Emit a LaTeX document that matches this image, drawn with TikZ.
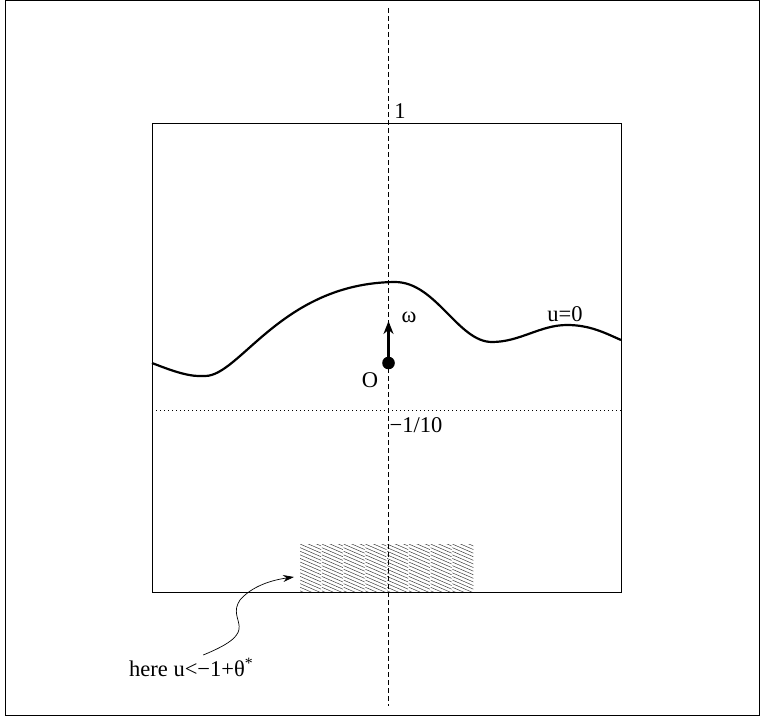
\documentclass[tikz,border=0pt]{standalone}
\usepackage{fontspec}
\setmainfont{Liberation Serif}
\usetikzlibrary{arrows.meta}

\begin{document}
\begin{tikzpicture}[x=1pt,y=-1pt,
  lab/.style={inner sep=0pt,font=\fontsize{22.5}{26}\selectfont},
  hatchline/.style={black!75,line width=0.5pt}]
\useasboundingbox (0,0) rectangle (760,717);
\draw[line width=0.8pt] (5.5,0.5) rectangle (759.5,715);
% Box
\draw[line width=0.9pt] (152,123) rectangle (621,592);
% Hatched strip at the bottom
\foreach \c in {0,...,7} {
  \begin{scope}
    \clip (300+21.75*\c,544) rectangle (300+21.75*\c+21,591.5);
    \foreach \k in {-6,...,22}
      \draw[hatchline] (300+21.75*\c,544+3.6*\k) -- ++(30,13);
  \end{scope}
}
% Axes
\draw[dash pattern=on 5pt off 3pt,line width=0.7pt] (388.5,8) -- (388.5,706);
\draw[dash pattern=on 1pt off 3pt,line width=0.8pt] (152,410) -- (621,410);
% Level curve
\draw[line width=2.2pt] (152,363) .. controls (175,372) and (190,377) .. (205,376)
  .. controls (240,376) and (282,283) .. (395,282)
  .. controls (436,282) and (458,342) .. (492,342)
  .. controls (520,342) and (540,325) .. (567,325)
  .. controls (590,325) and (605,333) .. (621,340);
% Point and normal
\coordinate (O) at (388.5,363);
\coordinate (tip) at (388.5,321);
\draw[line width=2.4pt,-{Stealth[length=13pt,width=10pt]}] (O) -- (tip);
\fill (O) circle (6.3pt);
% Labels
\node[lab] (one) at (400,111) {1};
\node[lab] (om) at (409,317) {ω};
\node[lab] (Olab) at (370,380) {O};
\node[lab] (cut) at (416,425) {−1/10};
\node[lab] (uzero) at (565,314) {u=0};
\node[lab,anchor=base west] (here) at (129,676) {here u<−1+θ\textsuperscript{*}};
\coordinate (hatch) at (294,577);
\draw[line width=0.7pt,-{Stealth[length=11pt,width=7pt]}] (here.north) ++(12,-3) .. controls (265,630) and (225,622) .. (240,600) .. controls (252,586) and (272,580) .. (hatch);
\end{tikzpicture}
\end{document}
